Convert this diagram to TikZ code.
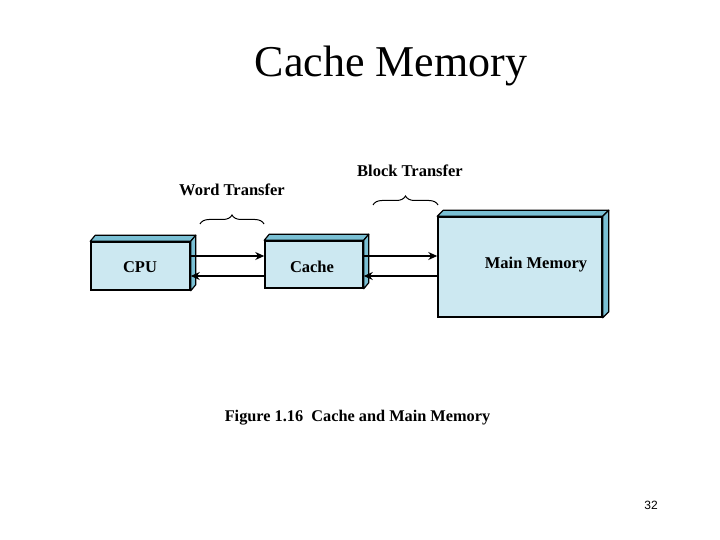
\documentclass[tikz,border=0pt]{standalone}
\usepackage{fontspec}
\setmainfont{Liberation Serif}
\newfontfamily\pagefont{Liberation Sans}
\usetikzlibrary{decorations.pathreplacing,arrows.meta}
\definecolor{frontc}{RGB}{204,232,241}
\definecolor{sidec}{RGB}{122,192,212}
\tikzset{
  box/.style={draw=black,line width=1.5pt,fill=frontc,inner sep=0pt},
  face/.style={draw=black,line width=1.2pt,fill=sidec,line join=round},
  arr/.style={line width=1.4pt,-{Stealth[length=9pt,width=8pt]}},
  lbl/.style={font=\fontsize{16.5}{19}\selectfont\bfseries},
  brc/.style={line width=1pt,decorate,decoration={brace,amplitude=9pt}}
}
\newcommand{\boxdepth}[3]{% node, dx, dy
  \draw[face] (#1.north west) -- ++(#2,#3) -- ([shift={(#2,#3)}]#1.north east) -- (#1.north east) -- cycle;
  \draw[face] (#1.north east) -- ([shift={(#2,#3)}]#1.north east) -- ([shift={(#2,#3)}]#1.south east) -- (#1.south east) -- cycle;
}
\begin{document}
\begin{tikzpicture}[x=1pt,y=-1pt]
\useasboundingbox[fill=white] (0,0) rectangle (720,540);
\node[font=\fontsize{44}{50}\selectfont] (title) at (391,66) {Cache Memory};

\node[box,minimum width=99pt,minimum height=48pt] (cpu) at (140.5,266) {};
\node[box,minimum width=98pt,minimum height=47pt] (cache) at (314,264.5) {};
\node[box,minimum width=164pt,minimum height=100pt] (mm) at (520,267) {};
\boxdepth{cpu}{5}{-6}
\boxdepth{cache}{5}{-6}
\boxdepth{mm}{6}{-6}
\node[lbl] (cputxt) at (140,267) {CPU};
\node[lbl] (cachetxt) at (312,267) {Cache};
\node[lbl] (mmtxt) at (536,265) {Main Memory};

\draw[arr] ([yshift=10pt]cpu.east) -- ([yshift=10pt]cpu.east -| cache.west);
\draw[arr] ([yshift=-10pt]cpu.east -| cache.west) -- ([yshift=-10pt]cpu.east);
\draw[arr] ([yshift=10pt]cpu.east -| cache.east) -- ([yshift=10pt]cpu.east -| mm.west);
\draw[arr] ([yshift=-10pt]cpu.east -| mm.west) -- ([yshift=-10pt]cpu.east -| cache.east);

\node[lbl] (word) at (232,190) {Word Transfer};
\node[lbl] (block) at (410,171) {Block Transfer};
\coordinate (wb1) at (200,224);
\coordinate (wb2) at (264,224);
\coordinate (bb1) at (373,205);
\coordinate (bb2) at (438,205);
\draw[brc] (wb1) -- (wb2);
\draw[brc] (bb1) -- (bb2);

\node[font=\fontsize{16.3}{18}\selectfont\bfseries] (cap) at (357.5,418) {Figure 1.16\ \ Cache and Main Memory};
\node[font=\pagefont\fontsize{12}{14}\selectfont] (pg) at (651,505) {32};
\end{tikzpicture}
\end{document}
